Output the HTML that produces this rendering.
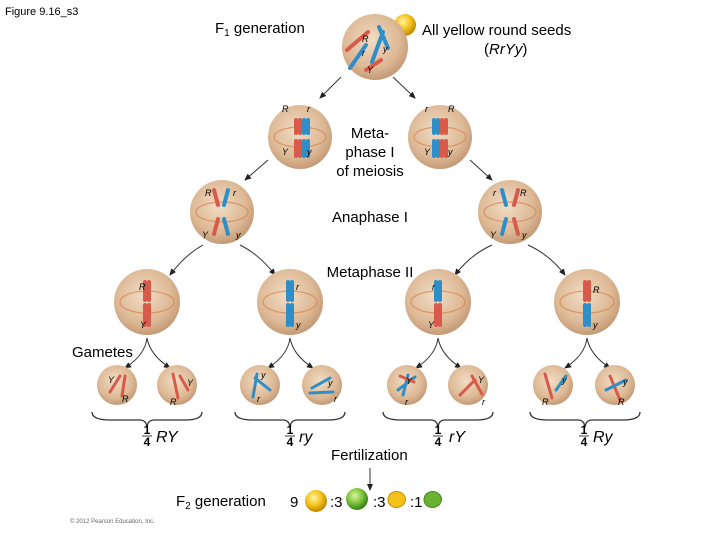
<!DOCTYPE html>
<html><head><meta charset="utf-8"><style>
body{margin:0;background:#fff;width:720px;height:540px;overflow:hidden}
svg{display:block;font-family:"Liberation Sans",sans-serif}
</style></head><body>
<svg width="720" height="540" viewBox="0 0 720 540">
<defs>
<radialGradient id="c" cx="0.45" cy="0.4" r="0.6"><stop offset="0" stop-color="#f1dcc4"/><stop offset="0.7" stop-color="#ddb996"/><stop offset="1" stop-color="#c59a76"/></radialGradient>
<radialGradient id="yel" cx="0.4" cy="0.35" r="0.6"><stop offset="0" stop-color="#fff3a0"/><stop offset="0.6" stop-color="#f2c21a"/><stop offset="1" stop-color="#c98e00"/></radialGradient>
<radialGradient id="grn" cx="0.4" cy="0.35" r="0.6"><stop offset="0" stop-color="#d8f5a0"/><stop offset="0.6" stop-color="#7cc23a"/><stop offset="1" stop-color="#3f8a1a"/></radialGradient>
<marker id="a" markerWidth="8" markerHeight="8" refX="6" refY="4" orient="auto"><path d="M0,1 L7,4 L0,7z" fill="#222"/></marker>
</defs>
<text x="5" y="15" font-size="11">Figure 9.16_s3</text>
<text x="215" y="33" font-size="15">F<tspan font-size="10" dy="3">1</tspan><tspan dy="-3"> generation</tspan></text>
<text x="422" y="35" font-size="15">All yellow round seeds</text>
<text x="484" y="54" font-size="15">(<tspan font-style="italic">RrYy</tspan>)</text>
<circle cx="405" cy="25" r="11" fill="url(#yel)"/>
<g fill="none" stroke="#333" stroke-width="1">
<path d="M341,77 L320,98" marker-end="url(#a)"/><path d="M393,77 L415,98" marker-end="url(#a)"/>
<path d="M268,160 L245,180" marker-end="url(#a)"/><path d="M470,160 L492,180" marker-end="url(#a)"/>
<path d="M203,245 Q185,255 170,275" marker-end="url(#a)"/><path d="M240,245 Q260,255 275,275" marker-end="url(#a)"/>
<path d="M492,245 Q470,255 455,275" marker-end="url(#a)"/><path d="M528,245 Q550,255 565,275" marker-end="url(#a)"/>
<path d="M147,338 Q145,355 125,368" marker-end="url(#a)"/><path d="M147,338 Q150,355 170,368" marker-end="url(#a)"/>
<path d="M290,338 Q288,355 268,368" marker-end="url(#a)"/><path d="M290,338 Q293,355 313,368" marker-end="url(#a)"/>
<path d="M438,338 Q436,355 416,368" marker-end="url(#a)"/><path d="M438,338 Q441,355 461,368" marker-end="url(#a)"/>
<path d="M587,338 Q585,355 565,368" marker-end="url(#a)"/><path d="M587,338 Q590,355 610,368" marker-end="url(#a)"/>
<path d="M370,468 L370,490" marker-end="url(#a)"/>
<path d="M92,412 Q92,420 110,420 L140,420 Q146,420 147,427 Q148,420 154,420 L185,420 Q202,420 202,412" stroke-width="1.3"/>
<path d="M235,412 Q235,420 253,420 L283,420 Q289,420 290,427 Q291,420 297,420 L328,420 Q345,420 345,412" stroke-width="1.3"/>
<path d="M383,412 Q383,420 401,420 L431,420 Q437,420 438,427 Q439,420 445,420 L476,420 Q493,420 493,412" stroke-width="1.3"/>
<path d="M530,412 Q530,420 548,420 L578,420 Q584,420 585,427 Q586,420 592,420 L623,420 Q640,420 640,412" stroke-width="1.3"/>
</g>
<g fill="url(#c)">
<circle cx="375" cy="47" r="33"/>
<circle cx="300" cy="137" r="32"/><circle cx="440" cy="137" r="32"/>
<circle cx="222" cy="212" r="32"/><circle cx="510" cy="212" r="32"/>
<circle cx="147" cy="302" r="33"/><circle cx="290" cy="302" r="33"/><circle cx="438" cy="302" r="33"/><circle cx="587" cy="302" r="33"/>
<circle cx="117" cy="385" r="20"/><circle cx="177" cy="385" r="20"/><circle cx="260" cy="385" r="20"/><circle cx="322" cy="385" r="20"/>
<circle cx="407" cy="385" r="20"/><circle cx="468" cy="385" r="20"/><circle cx="553" cy="385" r="20"/><circle cx="615" cy="385" r="20"/>
</g>
<g fill="none" stroke="#d98a55" stroke-width="1.2" opacity="0.8">
<ellipse cx="300" cy="137" rx="26" ry="10"/><ellipse cx="440" cy="137" rx="26" ry="10"/>
<ellipse cx="222" cy="212" rx="26" ry="10"/><ellipse cx="510" cy="212" rx="26" ry="10"/>
<ellipse cx="147" cy="302" rx="27" ry="11"/><ellipse cx="290" cy="302" rx="27" ry="11"/><ellipse cx="438" cy="302" rx="27" ry="11"/><ellipse cx="587" cy="302" rx="27" ry="11"/>
</g>
<g stroke-linecap="round" stroke-width="4">
<!-- top -->
<path d="M347,50 L368,32" stroke="#d85a4a"/>
<path d="M372,62 L383,32" stroke="#2e8fc8"/>
<path d="M350,68 L366,45" stroke="#2e8fc8"/>
<path d="M366,70 L381,60" stroke="#d85a4a"/>
<path d="M379,27 L388,48" stroke="#2e8fc8"/>
<!-- metaphase I -->
<path d="M296,120 V133 M296,141 V156" stroke="#d85a4a"/><path d="M300,120 V133 M300,141 V156" stroke="#d85a4a"/>
<path d="M304,120 V133 M304,141 V156" stroke="#2e8fc8"/><path d="M308,120 V133 M308,141 V156" stroke="#2e8fc8"/>
<path d="M434,120 V133 M434,141 V156" stroke="#2e8fc8"/><path d="M438,120 V133 M438,141 V156" stroke="#2e8fc8"/>
<path d="M442,120 V133 M442,141 V156" stroke="#d85a4a"/><path d="M446,120 V133 M446,141 V156" stroke="#d85a4a"/>
<!-- anaphase I -->
<path d="M214,190 L218,205 M214,234 L218,219" stroke="#d85a4a"/><path d="M228,190 L224,205 M228,234 L224,219" stroke="#2e8fc8"/>
<path d="M502,190 L506,205 M502,234 L506,219" stroke="#2e8fc8"/><path d="M518,190 L514,205 M518,234 L514,219" stroke="#d85a4a"/>
<!-- metaphase II -->
<path d="M145,282 V300 M149,282 V300 M145,305 V325 M149,305 V325" stroke="#d85a4a"/>
<path d="M288,282 V300 M292,282 V300 M288,305 V325 M292,305 V325" stroke="#2e8fc8"/>
<path d="M436,282 V300 M440,282 V300" stroke="#2e8fc8"/><path d="M436,305 V325 M440,305 V325" stroke="#d85a4a"/>
<path d="M585,282 V300 M589,282 V300" stroke="#d85a4a"/><path d="M585,305 V325 M589,305 V325" stroke="#2e8fc8"/>
<!-- gametes -->
<path d="M110,392 L120,376 M122,396 L125,376" stroke="#d85a4a" stroke-width="3"/>
<path d="M173,374 L178,398 M180,376 L188,390" stroke="#d85a4a" stroke-width="3"/>
<path d="M253,397 L257,374 M255,378 L270,390" stroke="#2e8fc8" stroke-width="3"/>
<path d="M312,388 L330,378 M310,393 L333,392" stroke="#2e8fc8" stroke-width="3"/>
<path d="M398,390 L415,377 M403,395 L408,375" stroke="#2e8fc8" stroke-width="3"/><path d="M400,376 L414,382" stroke="#d85a4a" stroke-width="3"/>
<path d="M460,395 L475,380 M472,376 L482,394" stroke="#d85a4a" stroke-width="3"/>
<path d="M545,374 L552,398" stroke="#d85a4a" stroke-width="3"/><path d="M556,390 L566,376" stroke="#2e8fc8" stroke-width="3"/>
<path d="M610,376 L620,400" stroke="#d85a4a" stroke-width="3"/><path d="M606,390 L626,380" stroke="#2e8fc8" stroke-width="3"/>
</g>
<g font-size="9" font-style="italic">
<text x="362" y="42">R</text><text x="383" y="52">y</text><text x="362" y="56">r</text><text x="367" y="73">Y</text>
<text x="282" y="112">R</text><text x="307" y="112">r</text><text x="282" y="155">Y</text><text x="307" y="155">y</text>
<text x="425" y="112">r</text><text x="448" y="112">R</text><text x="424" y="155">Y</text><text x="448" y="155">y</text>
<text x="205" y="196">R</text><text x="233" y="196">r</text><text x="202" y="238">Y</text><text x="236" y="238">y</text>
<text x="493" y="196">r</text><text x="520" y="196">R</text><text x="490" y="238">Y</text><text x="522" y="238">y</text>
<text x="139" y="290">R</text><text x="296" y="290">r</text><text x="140" y="328">Y</text><text x="296" y="328">y</text>
<text x="432" y="290">r</text><text x="593" y="293">R</text><text x="428" y="328">Y</text><text x="593" y="328">y</text>
<text x="108" y="383">Y</text><text x="122" y="402">R</text><text x="187" y="386">Y</text><text x="170" y="405">R</text>
<text x="261" y="378">y</text><text x="257" y="402">r</text><text x="328" y="386">y</text><text x="334" y="402">r</text>
<text x="406" y="384">Y</text><text x="405" y="405">r</text><text x="478" y="383">Y</text><text x="482" y="405">r</text>
<text x="562" y="383">y</text><text x="542" y="405">R</text><text x="623" y="385">y</text><text x="618" y="405">R</text>
</g>
<g font-size="15" text-anchor="middle">
<text x="370" y="138">Meta-</text><text x="370" y="157">phase I</text><text x="370" y="176">of meiosis</text>
<text x="370" y="222">Anaphase I</text>
<text x="370" y="277">Metaphase II</text>
</g>
<text x="72" y="357" font-size="15">Gametes</text>
<g font-size="12" font-weight="bold" text-anchor="middle">
<text x="147" y="434">1</text><text x="147" y="446">4</text>
<text x="290" y="434">1</text><text x="290" y="446">4</text>
<text x="438" y="434">1</text><text x="438" y="446">4</text>
<text x="584" y="434">1</text><text x="584" y="446">4</text>
</g>
<g stroke="#000" stroke-width="0.8"><path d="M142,436 H152 M285,436 H295 M433,436 H443 M579,436 H589"/></g>
<g font-size="16" font-style="italic">
<text x="156" y="442">RY</text><text x="299" y="442">ry</text><text x="449" y="442">rY</text><text x="593" y="442">Ry</text>
</g>
<text x="331" y="460" font-size="15">Fertilization</text>
<text x="176" y="506" font-size="15">F<tspan font-size="10" dy="3">2</tspan><tspan dy="-3"> generation</tspan></text>
<text x="290" y="507" font-size="15">9</text>
<circle cx="316" cy="501" r="11" fill="url(#yel)"/>
<text x="330" y="507" font-size="15">:3</text>
<circle cx="357" cy="499" r="11" fill="url(#grn)"/>
<text x="373" y="507" font-size="15">:3</text>
<path d="M390,494 q7,-5 13,0 q5,5 0,11 q-7,5 -13,0 q-4,-5 0,-11z" fill="#f2c21a" stroke="#c98e00"/>
<text x="410" y="507" font-size="15">:1</text>
<path d="M426,494 q7,-5 13,0 q5,5 0,11 q-7,5 -13,0 q-4,-5 0,-11z" fill="#6cb232" stroke="#3f8a1a"/>
<text x="70" y="523" font-size="6" fill="#666">© 2012 Pearson Education, Inc.</text>
</svg>
</body></html>
